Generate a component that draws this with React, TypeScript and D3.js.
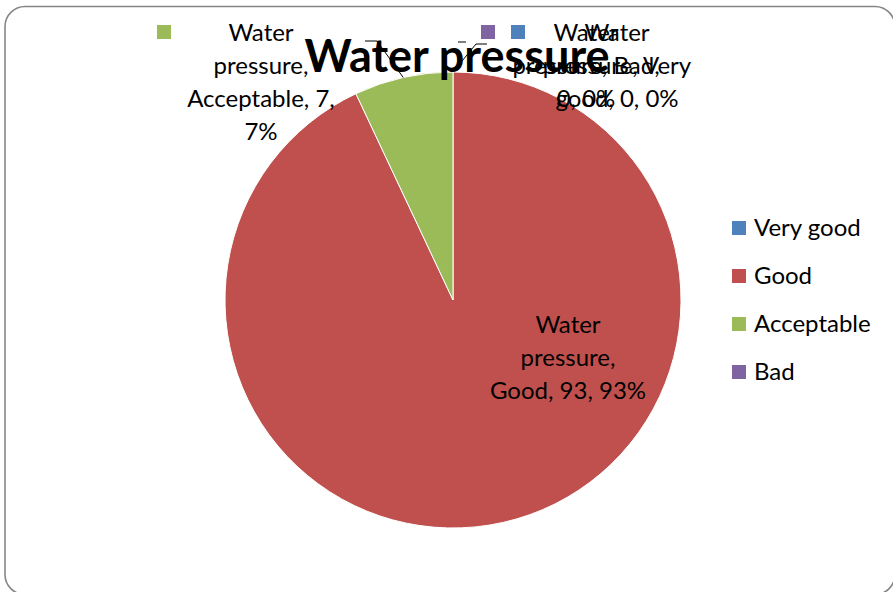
import React from "react";
import * as d3 from "d3";

// Survey results for water pressure
const categories = ["Very good", "Good", "Acceptable", "Bad"];
const values = [0, 93, 7, 0];
const seriesName = "Water pressure";
const colors = ["#4F81BD", "#C0504D", "#9BBB59", "#8064A2"];

const W = 893;
const H = 592;
const FONT = "Lato, 'Open Sans', sans-serif";

export default function App() {
  const cx = 453;
  const cy = 300;
  const r = 228;
  const total = d3.sum(values);

  const pie = d3.pie<number>().sort(null).value((d) => d);
  const arcs = pie(values);
  const arcGen = d3.arc<d3.PieArcDatum<number>>().innerRadius(0).outerRadius(r);
  const pct = (v: number) => `${Math.round((v / total) * 100)}%`;

  // label blocks: lines of text, centred at given x, first baseline at y
  const labelLines = (i: number): string[] => {
    const c = categories[i];
    const v = values[i];
    if (i === 1) return [seriesName.split(" ")[0], "pressure,", `${c}, ${v}, ${pct(v)}`];
    if (i === 2) return ["Water", "pressure,", `${c}, ${v},`, pct(v)];
    if (i === 3) return ["Water", `pressure, ${c},`, `${v}, ${pct(v)}`];
    return ["Water", "pressure, Very", `good, ${v}, ${pct(v)}`];
  };
  const labelPos = [
    { x: 617, y: 41, key: [511, 25] },
    { x: 568, y: 333, key: null },
    { x: 261, y: 41, key: [157, 25] },
    { x: 586, y: 41, key: [481, 25] },
  ];
  const lineH = 33;
  const fs = 24;

  const leader = d3.line();
  const mid = (a: d3.PieArcDatum<number>) => (a.startAngle + a.endAngle) / 2;
  const edgePt = (ang: number): [number, number] => [cx + r * Math.sin(ang), cy - r * Math.cos(ang)];

  const accEdge = edgePt(mid(arcs[2]));
  const topEdge = edgePt(mid(arcs[0]));

  return (
    <svg width={W} height={H} style={{ position: "absolute", left: 0, top: 0, background: "#fff" }}>
      <rect x={5} y={6.5} width={890} height={588} rx={20} ry={20} fill="#fff" stroke="#868686" strokeWidth={1.6} />
      <g>
        {arcs.map((a, i) => (
          <path
            key={i}
            d={arcGen(a) || ""}
            transform={`translate(${cx},${cy})`}
            fill={colors[i]}
            stroke="#fff"
            strokeWidth={values[i] > 0 ? 1 : 0}
          />
        ))}
      </g>
      <text x={457} y={72} textAnchor="middle" fontFamily={FONT} fontWeight="bold" fontSize={45} fill="#000">
        {seriesName}
      </text>
      {/* leader lines */}
      <path d={leader([[365, 41], [377, 41], accEdge]) || ""} fill="none" stroke="#000" strokeWidth={1} />
      <path d={leader([topEdge, [476, 44], [487, 44]]) || ""} fill="none" stroke="#000" strokeWidth={1} />
      <path d={leader([[458, 42], [466, 42]]) || ""} fill="none" stroke="#000" strokeWidth={1} />
      {/* data labels */}
      {[0, 1, 2, 3].map((i) => {
        const p = labelPos[i];
        return (
          <g key={i}>
            {p.key && <rect x={p.key[0]} y={p.key[1]} width={14} height={14} fill={colors[i]} />}
            <text textAnchor="middle" fontFamily={FONT} fontSize={fs} fill="#000">
              {labelLines(i).map((t, j) => (
                <tspan key={j} x={p.x} y={p.y + j * lineH}>
                  {t}
                </tspan>
              ))}
            </text>
          </g>
        );
      })}
      {/* legend */}
      {categories.map((c, i) => (
        <g key={c} transform={`translate(732,${221 + i * 48})`}>
          <rect x={0} y={0} width={14} height={14} fill={colors[i]} />
          <text x={22} y={15} fontFamily={FONT} fontSize={fs} fill="#000">
            {c}
          </text>
        </g>
      ))}
    </svg>
  );
}
